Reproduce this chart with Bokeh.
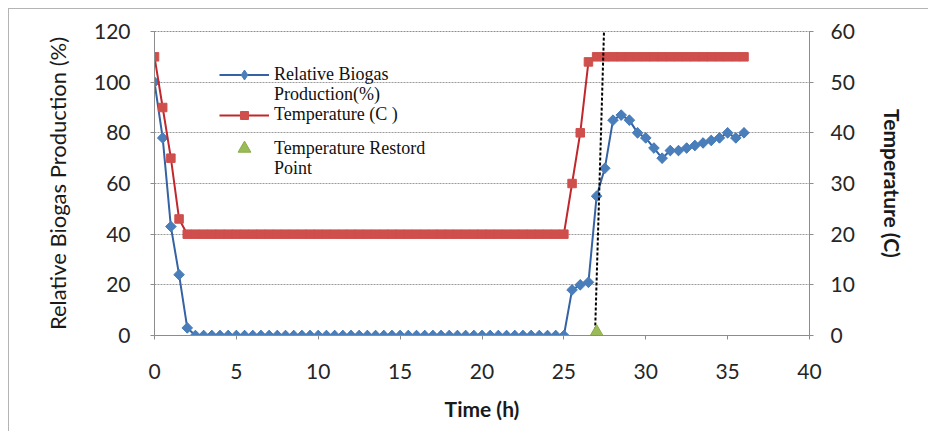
import math

from bokeh.plotting import figure
from bokeh.models import (Range1d, LinearAxis, Legend, LegendItem, FixedTicker, Title)
from bokeh.embed import file_html
from bokeh.resources import INLINE

# Sampling times (h)
time_h = [0, 0.5, 1, 1.5, 2, 2.5, 3, 3.5, 4, 4.5, 5, 5.5, 6, 6.5, 7, 7.5, 8, 8.5,
          9, 9.5, 10, 10.5, 11, 11.5, 12, 12.5, 13, 13.5, 14, 14.5, 15, 15.5, 16,
          16.5, 17, 17.5, 18, 18.5, 19, 19.5, 20, 20.5, 21, 21.5, 22, 22.5, 23,
          23.5, 24, 24.5, 25, 25.5, 26, 26.5, 27, 27.5, 28, 28.5, 29, 29.5, 30,
          30.5, 31, 31.5, 32, 32.5, 33, 33.5, 34, 34.5, 35, 35.5, 36]

# Relative biogas production (%)
biogas_pct = [100, 78, 43, 24, 3, 0, 0, 0, 0, 0, 0, 0, 0, 0, 0, 0, 0, 0,
              0, 0, 0, 0, 0, 0, 0, 0, 0, 0, 0, 0, 0, 0, 0,
              0, 0, 0, 0, 0, 0, 0, 0, 0, 0, 0, 0, 0, 0,
              0, 0, 0, 0, 18, 20, 21, 55, 66, 85, 87, 85, 80, 78,
              74, 70, 73, 73, 74, 75, 76, 77, 78, 80, 78, 80]

# Digester temperature (C)
temperature_c = [55, 45, 35, 23, 20, 20, 20, 20, 20, 20, 20, 20, 20, 20, 20, 20, 20, 20,
                 20, 20, 20, 20, 20, 20, 20, 20, 20, 20, 20, 20, 20, 20, 20,
                 20, 20, 20, 20, 20, 20, 20, 20, 20, 20, 20, 20, 20, 20,
                 20, 20, 20, 20, 30, 40, 54, 55, 55, 55, 55, 55, 55, 55,
                 55, 55, 55, 55, 55, 55, 55, 55, 55, 55, 55, 55]

# Point where the temperature was restored
restore_time = [27]
restore_value = [0]

# Dashed marker line through the restore point
restore_line_x = [26.9, 27.45]
restore_line_y = [0, 120]

x_ticks = [0, 5, 10, 15, 20, 25, 30, 35, 40]
left_ticks = [0, 20, 40, 60, 80, 100, 120]
right_ticks = [0, 10, 20, 30, 40, 50, 60]

TICK_FONT = "Lato"
LEGEND_FONT = "Liberation Serif"
AXIS_GREY = "#8c8c8c"
TEXT_DARK = "#1a1a1a"

p = figure(width=920, height=423, output_backend="svg", toolbar_location=None,
           x_range=Range1d(0, 40), y_range=Range1d(0, 120),
           min_border_left=145, min_border_right=120,
           min_border_top=22, min_border_bottom=97,
           background_fill_color="white", border_fill_color="white")
p.styles = {"margin-left": "8px", "margin-top": "8px",
            "border-left": "1px solid #b4b4b4", "border-top": "1px solid #b4b4b4"}
p.extra_y_ranges = {"temp": Range1d(0, 60)}

p.outline_line_color = AXIS_GREY
p.outline_line_dash = "2 1"
p.xgrid.visible = False
p.ygrid.ticker = FixedTicker(ticks=left_ticks)
p.ygrid.grid_line_color = "#9a9a9a"
p.ygrid.grid_line_dash = "2 1"
p.ygrid.grid_line_width = 1

def style_axis(ax, ticks, label_standoff):
    ax.ticker = FixedTicker(ticks=ticks)
    ax.minor_tick_line_color = None
    ax.axis_line_color = AXIS_GREY
    ax.major_tick_line_color = AXIS_GREY
    ax.major_tick_out = 4
    ax.major_tick_in = 0
    ax.major_label_text_font = TICK_FONT
    ax.major_label_text_font_size = "21px"
    ax.major_label_text_color = "#262626"
    ax.major_label_standoff = label_standoff

def style_title(ax, text, bold, standoff):
    ax.axis_label = text
    ax.axis_label_text_font = TICK_FONT
    ax.axis_label_text_font_size = "21px" if bold else "22px"
    ax.axis_label_text_font_style = "bold" if bold else "normal"
    ax.axis_label_text_color = TEXT_DARK
    ax.axis_label_standoff = standoff

style_axis(p.xaxis[0], x_ticks, 24)
style_axis(p.yaxis[0], left_ticks, 20)
style_title(p.yaxis[0], "Relative Biogas Production (%)", False, 20)

right_axis = LinearAxis(y_range_name="temp")
style_axis(right_axis, right_ticks, 17)
style_title(right_axis, "Temperature (C)", True, 22)
right_axis.axis_label_orientation = "vertical"
p.add_layout(right_axis, "right")

p.add_layout(Title(text="Time (h)", align="center", offset=-14, standoff=24,
                   text_font=TICK_FONT, text_font_size="21px",
                   text_font_style="bold", text_color=TEXT_DARK), "below")

# Biogas production
bio_line = p.line(time_h, biogas_pct, line_color="#3462a3", line_width=2)
bio_diamonds = p.scatter(time_h, biogas_pct, marker="diamond", size=10,
                         fill_color="#4a7ebb", line_color="#4a7ebb")
bio_pts = p.scatter(time_h, biogas_pct, marker="square", angle=math.pi / 4, size=7.5,
                    fill_color="#4a7ebb", line_color="#4a7ebb")

# Temperature on the secondary axis
temp_line = p.line(time_h, temperature_c, line_color="#c0282d", line_width=2,
                   y_range_name="temp")
temp_pts = p.scatter(time_h, temperature_c, marker="square", size=8.5,
                     fill_color="#cf4f4c", line_color="#cf4f4c", y_range_name="temp")

p.line(restore_line_x, restore_line_y, line_color="black", line_width=2,
       line_dash="3 2")

# Restore point
restore_pts = p.scatter(restore_time, restore_value, marker="triangle", size=19,
                        fill_color="#9bbb59", line_color="#8aab48")

# Legend: one line of text per block, so wrapped labels sit under their glyph row
def legend_block(text, renderers, center_from_top, row_h):
    bottom = 304 - center_from_top - row_h / 2
    lg = Legend(items=[LegendItem(label=text, renderers=renderers)],
                location=(65, bottom))
    lg.label_text_font = LEGEND_FONT
    lg.label_text_font_size = "18px"
    lg.label_text_color = "#111111"
    lg.glyph_width = 50
    lg.glyph_height = row_h
    lg.label_height = row_h
    lg.label_standoff = 5
    lg.spacing = 0
    lg.padding = 0
    lg.margin = 0
    lg.border_line_color = None
    lg.background_fill_alpha = 0
    p.add_layout(lg, "center")

legend_block("Relative Biogas", [bio_line, bio_diamonds], 43, 25)
legend_block("Production(%)", [], 64, 19)
legend_block("Temperature (C )", [temp_line, temp_pts], 84, 20)
legend_block("Temperature Restord", [restore_pts], 117, 32)
legend_block("Point", [], 138, 19)

open("out.html", "w").write(file_html(p, INLINE))
